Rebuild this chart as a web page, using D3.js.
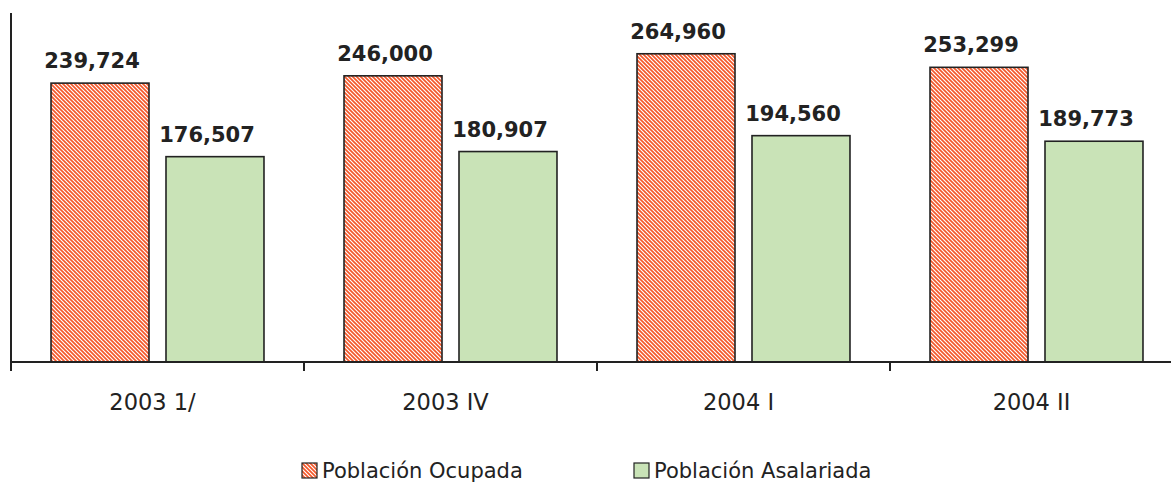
<!DOCTYPE html>
<html>
<head>
<meta charset="utf-8">
<script src="https://cdn.jsdelivr.net/npm/d3@7/dist/d3.min.js"></script>
<style>
  html, body { margin: 0; padding: 0; background: #fff; }
  svg { display: block; }
</style>
</head>
<body>
<svg id="chart" width="1171" height="495"></svg>
<script>
const categories = ["2003 1/", "2003 IV", "2004 I", "2004 II"];
const seriesNames = ["Población Ocupada", "Población Asalariada"];
const ocupada = [239724, 246000, 264960, 253299];
const asalariada = [176507, 180907, 194560, 189773];
const yDomain = [0, 300000];

(function () {
const svg = d3.select("#chart");
const W = 1171;
const mLeft = 11, mTop = 13, base = 362, groupW = 293;

const defs = svg.append("defs");
const pat = defs.append("pattern")
  .attr("id", "hatch").attr("patternUnits", "userSpaceOnUse")
  .attr("width", 4).attr("height", 4);
pat.append("rect").attr("width", 4).attr("height", 4).attr("fill", "#ffffff");
pat.append("path")
  .attr("d", "M-1,-1 L5,5 M-1,3 L1,5 M3,-1 L5,1")
  .attr("stroke", "#f4582a").attr("stroke-width", 1.7);

const x = d3.scaleBand().domain(categories)
  .range([mLeft, mLeft + groupW * categories.length]).padding(0);
const xs = d3.scaleBand().domain(seriesNames)
  .range([0, groupW]).paddingInner(17 / 115).paddingOuter(0.348);
const y = d3.scaleLinear().domain(yDomain).range([base, mTop]);

const fills = ["url(#hatch)", "#c9e3b7"];
const data = categories.map((c, i) => ({ c, vals: [ocupada[i], asalariada[i]] }));

const g = svg.selectAll("g.grp").data(data).enter().append("g")
  .attr("transform", d => `translate(${x(d.c)},0)`);

g.selectAll("rect").data(d => d.vals.map((v, j) => ({ v, s: seriesNames[j], j })))
  .enter().append("rect")
  .attr("x", d => xs(d.s))
  .attr("y", d => y(d.v))
  .attr("width", xs.bandwidth())
  .attr("height", d => base - y(d.v))
  .attr("fill", d => fills[d.j])
  .attr("stroke", "#222")
  .attr("stroke-width", 1.6);

g.selectAll("text.lbl").data(d => d.vals.map((v, j) => ({ v, s: seriesNames[j], j })))
  .enter().append("text")
  .attr("class", "lbl")
  .attr("x", d => xs(d.s) + xs.bandwidth() / 2 - 8)
  .attr("y", d => y(d.v) - 15)
  .attr("text-anchor", "middle")
  .attr("font-family", "DejaVu Sans")
  .attr("font-weight", "bold")
  .attr("font-size", "21px")
  .attr("fill", "#222")
  .text(d => d3.format(",")(d.v));

// x axis
const xAxis = d3.axisBottom(x).tickSize(0).tickFormat(d => d);
const xg = svg.append("g").attr("transform", `translate(0,${base})`).call(xAxis);
xg.select(".domain").remove();
xg.selectAll("text")
  .attr("font-family", "DejaVu Sans")
  .attr("font-size", "22.5px")
  .attr("fill", "#222")
  .attr("dx", "-5")
  .attr("dy", 0)
  .attr("y", 48);

svg.append("line").attr("x1", mLeft).attr("x2", W).attr("y1", base).attr("y2", base)
  .attr("stroke", "#222").attr("stroke-width", 2);
const bounds = categories.map(c => x(c));
svg.selectAll("line.bt").data(bounds).enter().append("line")
  .attr("x1", d => d).attr("x2", d => d)
  .attr("y1", base).attr("y2", base + 9)
  .attr("stroke", "#222").attr("stroke-width", 2);
svg.append("line").attr("x1", mLeft).attr("x2", mLeft).attr("y1", y(yDomain[1])).attr("y2", base)
  .attr("stroke", "#222").attr("stroke-width", 2);

// legend
const legendX = [302, 634];
const lg = svg.selectAll("g.leg").data(seriesNames).enter().append("g")
  .attr("transform", (d, i) => `translate(${legendX[i]},463)`);
lg.append("rect").attr("width", 15).attr("height", 15)
  .attr("fill", (d, i) => fills[i]).attr("stroke", "#222").attr("stroke-width", 1.2);
lg.append("text").attr("x", 20).attr("y", 15)
  .attr("font-family", "DejaVu Sans").attr("font-size", "21px").attr("fill", "#222")
  .text(d => d);
})();
</script>
</body>
</html>
